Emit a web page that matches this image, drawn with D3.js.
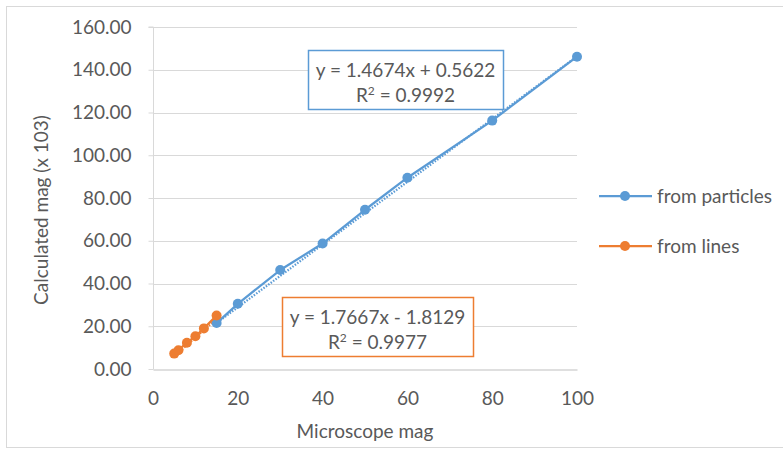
<!DOCTYPE html>
<html>
<head>
<meta charset="utf-8">
<script src="https://cdn.jsdelivr.net/npm/d3@7/dist/d3.min.js"></script>
<style>
  html, body { margin: 0; padding: 0; background: #ffffff; }
  svg { display: block; }
  text { font-family: Lato, "Open Sans", sans-serif; fill: #595959; }
</style>
</head>
<body>
<svg id="chart" width="783" height="453"></svg>
<script>
// Microscope magnification vs calculated magnification (x 10^3)
const particlesX = [15, 20, 30, 40, 50, 60, 80, 100];
const particlesY = [21.5, 30.5, 46.3, 58.7, 74.5, 89.5, 116.2, 146.1];
const linesX = [5, 6, 8, 10, 12, 15];
const linesY = [7.2, 8.8, 12.3, 15.3, 19.0, 25.0];

// Linear trend fits shown on the chart
const particlesFit = { slope: 1.4674, intercept: 0.5622, r2: "0.9992" };
const linesFit = { slope: 1.7667, intercept: -1.8129, r2: "0.9977" };

const xTicks = [0, 20, 40, 60, 80, 100];
const yTicks = [0, 20, 40, 60, 80, 100, 120, 140, 160];

const seriesNames = ["from particles", "from lines"];
const colors = ["#5B9BD5", "#ED7D31"];

const FONT = "19px";

const svg = d3.select("#chart");

// outer chart frame
svg.append("rect")
  .attr("x", 6.5).attr("y", 6.5)
  .attr("width", 800).attr("height", 441)
  .attr("fill", "#ffffff")
  .attr("stroke", "#d9d9d9").attr("stroke-width", 1);

const plot = { left: 153, right: 577, top: 27, bottom: 369 };

const x = d3.scaleLinear().domain([0, 100]).range([plot.left, plot.right]);
const y = d3.scaleLinear().domain([0, 160]).range([plot.bottom, plot.top]);

// horizontal gridlines
svg.append("g")
  .selectAll("line")
  .data(yTicks.filter(d => d > 0))
  .join("line")
  .attr("x1", plot.left).attr("x2", plot.right)
  .attr("y1", d => Math.round(y(d)) + 0.5).attr("y2", d => Math.round(y(d)) + 0.5)
  .attr("stroke", "#d9d9d9").attr("stroke-width", 1);

// y axis
const yAxis = svg.append("g")
  .attr("transform", `translate(${plot.left + 0.5},0)`)
  .call(d3.axisLeft(y).tickValues(yTicks).tickFormat(d3.format(".2f")).tickSize(5).tickPadding(17));
yAxis.select(".domain").attr("stroke", "#d9d9d9").attr("d", `M-5,${plot.top}H0V${plot.bottom}`);
yAxis.selectAll(".tick line").attr("stroke", "#d9d9d9");
yAxis.selectAll(".tick text")
  .attr("fill", "#595959")
  .style("font-family", "Lato, sans-serif")
  .style("font-size", FONT);

// x axis
const xAxis = svg.append("g")
  .attr("transform", `translate(0,${plot.bottom + 0.5})`)
  .call(d3.axisBottom(x).tickValues(xTicks).tickSize(0).tickPadding(22));
xAxis.select(".domain").attr("stroke", "#bfbfbf");
xAxis.selectAll(".tick text")
  .attr("fill", "#595959")
  .style("font-family", "Lato, sans-serif")
  .style("font-size", FONT);

// axis titles
svg.append("text")
  .attr("x", 365)
  .attr("y", 438)
  .attr("text-anchor", "middle")
  .style("font-size", FONT)
  .text("Microscope mag");

svg.append("text")
  .attr("transform", "translate(48,210) rotate(-90)")
  .attr("text-anchor", "middle")
  .style("font-size", FONT)
  .text("Calculated mag (x 103)");

const series = [
  { xs: particlesX, ys: particlesY, fit: particlesFit, color: colors[0] },
  { xs: linesX, ys: linesY, fit: linesFit, color: colors[1] }
];

const line = d3.line().x(d => x(d[0])).y(d => y(d[1]));

// dotted linear trendlines
series.forEach(s => {
  const x0 = d3.min(s.xs), x1 = d3.max(s.xs);
  const pts = [[x0, s.fit.slope * x0 + s.fit.intercept], [x1, s.fit.slope * x1 + s.fit.intercept]];
  svg.append("path")
    .attr("d", line(pts))
    .attr("fill", "none")
    .attr("stroke", s.color)
    .attr("stroke-width", 2.25)
    .attr("stroke-dasharray", "1.5,1.5")
    .attr("transform", "translate(1,1.5)");
});

// series lines and markers
series.forEach(s => {
  const pts = s.xs.map((v, i) => [v, s.ys[i]]);
  svg.append("path")
    .attr("d", line(pts))
    .attr("fill", "none")
    .attr("stroke", s.color)
    .attr("stroke-width", 2.25)
    .attr("stroke-linejoin", "round");
  svg.append("g")
    .selectAll("circle")
    .data(pts)
    .join("circle")
    .attr("cx", d => x(d[0]))
    .attr("cy", d => y(d[1]))
    .attr("r", 5)
    .attr("fill", s.color);
});

// trendline equation labels
function eqLabel(fit, color, bx, by, bw, bh) {
  const g = svg.append("g");
  g.append("rect")
    .attr("x", bx + 0.5).attr("y", by + 0.5)
    .attr("width", bw).attr("height", bh)
    .attr("fill", "#ffffff")
    .attr("stroke", color).attr("stroke-width", 1.5);
  const sign = fit.intercept < 0 ? "-" : "+";
  g.append("text")
    .attr("x", bx + bw / 2).attr("y", by + 27)
    .attr("text-anchor", "middle")
    .style("font-size", FONT)
    .text(`y = ${fit.slope.toFixed(4)}x ${sign} ${Math.abs(fit.intercept).toFixed(4)}`);
  const t = g.append("text")
    .attr("x", bx + bw / 2).attr("y", by + 52)
    .attr("text-anchor", "middle")
    .style("font-size", FONT);
  t.append("tspan").text("R");
  t.append("tspan").attr("dy", -7).style("font-size", "12px").text("2");
  t.append("tspan").attr("dy", 7).text(` = ${fit.r2}`);
}
eqLabel(particlesFit, colors[0], 308, 50, 195, 59);
eqLabel(linesFit, colors[1], 282, 297, 191, 59);

// legend
const legend = svg.append("g");
seriesNames.forEach((name, i) => {
  const ly = 196 + i * 50;
  legend.append("line")
    .attr("x1", 599).attr("x2", 652)
    .attr("y1", ly).attr("y2", ly)
    .attr("stroke", colors[i]).attr("stroke-width", 2.25);
  legend.append("circle")
    .attr("cx", 625).attr("cy", ly).attr("r", 5)
    .attr("fill", colors[i]);
  legend.append("text")
    .attr("x", 657).attr("y", ly + 6.5)
    .style("font-size", FONT)
    .text(name);
});
</script>
</body>
</html>
